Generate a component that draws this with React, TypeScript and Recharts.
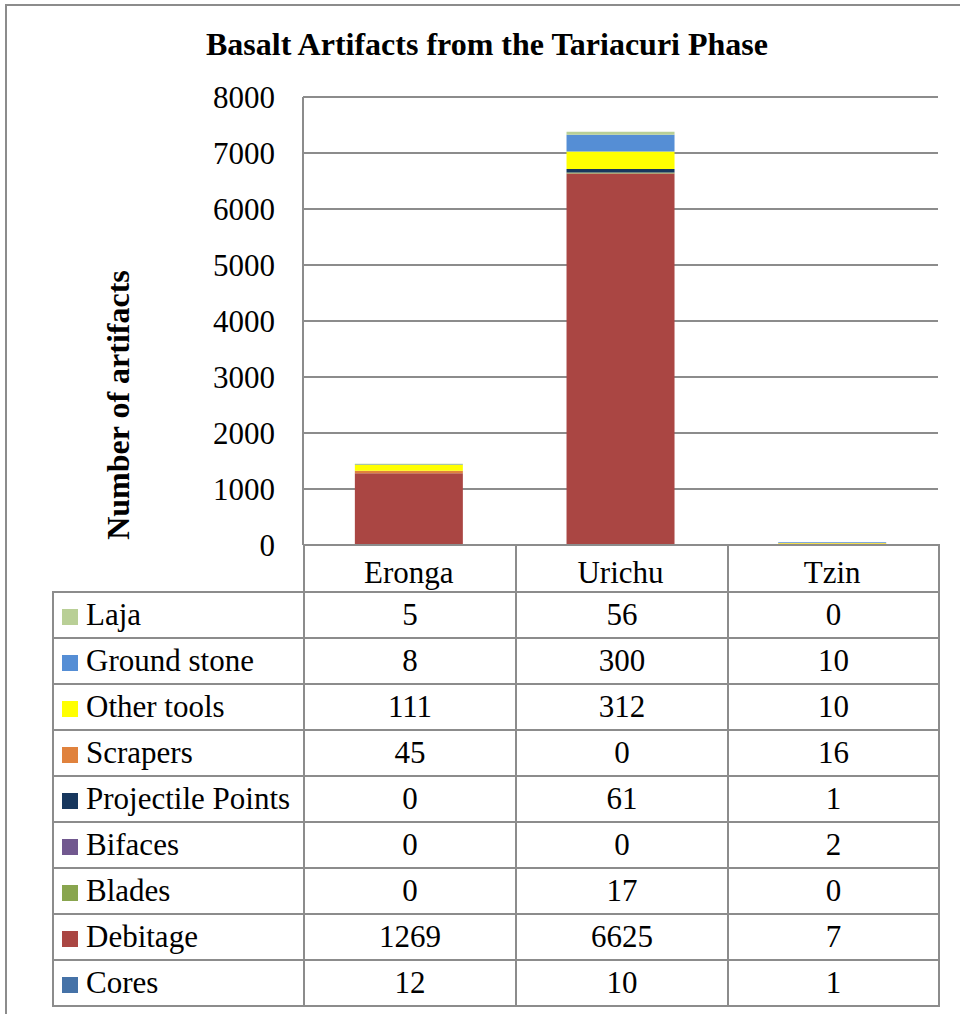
import React from "react";
import { BarChart, Bar, XAxis, YAxis, CartesianGrid } from "recharts";

const sites = ["Eronga", "Urichu", "Tzin"];

// series listed bottom of stack first
const cores = [12, 10, 1];
const debitage = [1269, 6625, 7];
const blades = [0, 17, 0];
const bifaces = [0, 0, 2];
const projectilePoints = [0, 61, 1];
const scrapers = [45, 0, 16];
const otherTools = [111, 312, 10];
const groundStone = [8, 300, 10];
const laja = [5, 56, 0];

const yTicks = [0, 1000, 2000, 3000, 4000, 5000, 6000, 7000, 8000];

const series = [
  { key: "Cores", values: cores, color: "#4572A7" },
  { key: "Debitage", values: debitage, color: "#AA4643" },
  { key: "Blades", values: blades, color: "#89A54E" },
  { key: "Bifaces", values: bifaces, color: "#71588F" },
  { key: "Projectile Points", values: projectilePoints, color: "#17375E" },
  { key: "Scrapers", values: scrapers, color: "#E0823D" },
  { key: "Other tools", values: otherTools, color: "#FFFF00" },
  { key: "Ground stone", values: groundStone, color: "#558ED5" },
  { key: "Laja", values: laja, color: "#B9CF96" },
];

const data = sites.map((site, i) => {
  const row: Record<string, string | number> = { site };
  series.forEach((s) => (row[s.key] = s.values[i]));
  return row;
});

const FONT = '"Liberation Serif", "Times New Roman", serif';
const GRID = "#8C8C8C";
const FS = 31;

export default function App() {
  const tableRows = [...series].reverse();
  const cell: React.CSSProperties = {
    border: `2px solid ${GRID}`,
    textAlign: "center",
    padding: 0,
    height: 44,
    lineHeight: "30px",
    overflow: "hidden",
  };
  return (
    <div
      style={{
        position: "absolute",
        left: 0,
        top: 0,
        width: 960,
        height: 1014,
        overflow: "hidden",
        background: "#fff",
        fontFamily: FONT,
      }}
    >
      <div
        style={{
          position: "absolute",
          left: 5,
          top: 4,
          width: 1000,
          height: 1100,
          border: `2px solid ${GRID}`,
        }}
      />
      <div
        style={{
          position: "absolute",
          left: 0,
          width: 974,
          top: 26,
          textAlign: "center",
          fontSize: 32,
          lineHeight: "36px",
          fontWeight: "bold",
        }}
      >
        Basalt Artifacts from the Tariacuri Phase
      </div>
      <div
        style={{
          position: "absolute",
          left: 118,
          top: 405,
          transform: "translate(-50%, -50%) rotate(-90deg)",
          whiteSpace: "nowrap",
          fontSize: 32,
          lineHeight: "36px",
          fontWeight: "bold",
        }}
      >
        Number of artifacts
      </div>
      <div style={{ position: "absolute", left: 0, top: 0 }}>
        <BarChart
          width={960}
          height={600}
          data={data}
          margin={{ top: 97, right: 22, left: 223, bottom: 5 }}
          barCategoryGap="24.5%"
        >
          <CartesianGrid vertical={false} stroke={GRID} strokeWidth={2} />
          <XAxis
            dataKey="site"
            height={50}
            axisLine={false}
            tickLine={false}
            tickMargin={10}
            tick={{ fontSize: FS, fill: "#000", fontFamily: FONT }}
          />
          <YAxis
            width={80}
            domain={[0, 8000]}
            ticks={yTicks}
            interval={0}
            axisLine={{ stroke: GRID, strokeWidth: 2 }}
            tickLine={false}
            tickSize={20}
            tickMargin={8}
            tick={{ fontSize: FS, fill: "#000", fontFamily: FONT }}
          />
          {series.map((s) => (
            <Bar
              key={s.key}
              dataKey={s.key}
              stackId="a"
              fill={s.color}
              isAnimationActive={false}
            />
          ))}
        </BarChart>
      </div>
      <table
        style={{
          position: "absolute",
          left: 52,
          top: 544,
          borderCollapse: "collapse",
          tableLayout: "fixed",
          fontSize: FS,
          fontFamily: FONT,
        }}
      >
        <colgroup>
          <col style={{ width: 251 }} />
          <col style={{ width: 212 }} />
          <col style={{ width: 212 }} />
          <col style={{ width: 211 }} />
        </colgroup>
        <tbody>
          <tr>
            <td style={{ ...cell, border: "none", borderRight: `2px solid ${GRID}`, height: 45 }} />
            {sites.map((s) => (
              <td key={s} style={{ ...cell, height: 45 }} />
            ))}
          </tr>
          {tableRows.map((s) => (
            <tr key={s.key}>
              <td style={{ ...cell, textAlign: "left", whiteSpace: "nowrap", paddingLeft: 8 }}>
                <span
                  style={{
                    display: "inline-block",
                    width: 16,
                    height: 16,
                    background: s.color,
                    marginRight: 8,
                  }}
                />
                {s.key}
              </td>
              {s.values.map((v, i) => (
                <td key={i} style={cell}>
                  {v}
                </td>
              ))}
            </tr>
          ))}
        </tbody>
      </table>
    </div>
  );
}
